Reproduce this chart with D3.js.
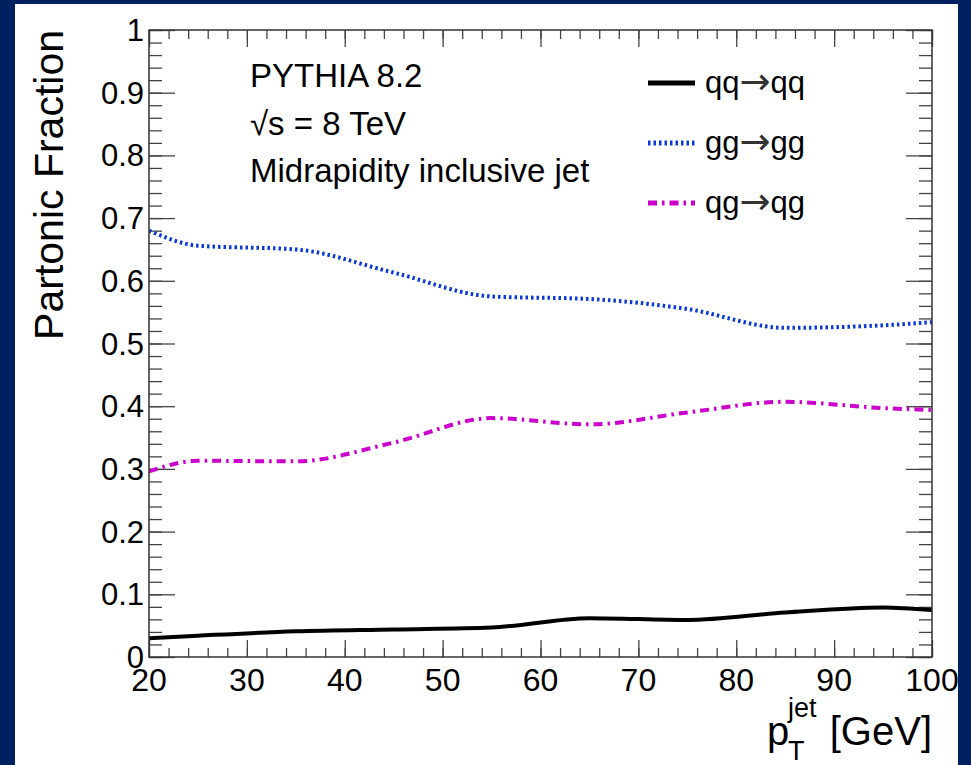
<!DOCTYPE html>
<html>
<head>
<meta charset="utf-8">
<script src="https://cdn.jsdelivr.net/npm/d3@7"></script>
<style>
  body { margin: 0; background: #002060; }
  svg { display: block; }
  text { font-family: "Liberation Sans", Arial, sans-serif; fill: #000; }
</style>
</head>
<body>
<svg id="chart" width="971" height="765"></svg>
<script>
// jet pT bins (GeV)
let ptValues = [20, 25, 35, 45, 55, 65, 75, 85, 95, 100];

// partonic fractions
let qqFraction = [0.030, 0.034, 0.041, 0.044, 0.047, 0.062, 0.059, 0.071, 0.079, 0.075];
let ggFraction = [0.680, 0.656, 0.650, 0.613, 0.575, 0.571, 0.555, 0.525, 0.529, 0.534];
let qgFraction = [0.296, 0.313, 0.312, 0.342, 0.381, 0.371, 0.390, 0.407, 0.397, 0.394];

// process labels: initial state, final state
let seriesNames = [['qq', 'qq'], ['gg', 'gg'], ['qg', 'qg']];

let xTickLabels = [20, 30, 40, 50, 60, 70, 80, 90, 100];
let yTickLabels = [0, 0.1, 0.2, 0.3, 0.4, 0.5, 0.6, 0.7, 0.8, 0.9, 1];

let infoLines = ['PYTHIA 8.2', '\u221As = 8 TeV', 'Midrapidity inclusive jet'];

let series = [
  { name: seriesNames[0], values: qqFraction, color: '#000000', dash: null, width: 4 },
  { name: seriesNames[1], values: ggFraction, color: '#0a3ad6', dash: '2.5,3', width: 4 },
  { name: seriesNames[2], values: qgFraction, color: '#cc00cc', dash: '9,5,2.5,5', width: 4 }
];

let frame = { left: 149, right: 932, top: 30, bottom: 657 };

let svg = d3.select('#chart');

// white panel on the navy slide
svg.append('rect')
  .attr('x', 15).attr('y', 4)
  .attr('width', 943).attr('height', 761)
  .attr('fill', '#fff');

let x = d3.scaleLinear().domain([20, 100]).range([frame.left, frame.right]);
let y = d3.scaleLinear().domain([0, 1]).range([frame.bottom, frame.top]);

svg.append('clipPath').attr('id', 'clip')
  .append('rect')
  .attr('x', frame.left).attr('y', frame.top)
  .attr('width', frame.right - frame.left)
  .attr('height', frame.bottom - frame.top);

// ticks, ROOT style: on all four sides
let xMinor = d3.range(20, 100.1, 2);
let yMinor = d3.range(0, 1.001, 0.02);

function tickAxis(axis, transform, values, size) {
  let g = svg.append('g')
    .attr('transform', transform)
    .call(axis.tickValues(values).tickSize(size).tickFormat(''));
  g.select('.domain').remove();
  g.selectAll('line').attr('stroke', '#444').attr('stroke-width', 1.3);
}

tickAxis(d3.axisBottom(x), `translate(0,${frame.bottom})`, xMinor, -9);
tickAxis(d3.axisBottom(x), `translate(0,${frame.bottom})`, xTickLabels, -17);
tickAxis(d3.axisTop(x), `translate(0,${frame.top})`, xMinor, -9);
tickAxis(d3.axisTop(x), `translate(0,${frame.top})`, xTickLabels, -17);
tickAxis(d3.axisLeft(y), `translate(${frame.left},0)`, yMinor, -13);
tickAxis(d3.axisLeft(y), `translate(${frame.left},0)`, yTickLabels, -26);
tickAxis(d3.axisRight(y), `translate(${frame.right},0)`, yMinor, -13);
tickAxis(d3.axisRight(y), `translate(${frame.right},0)`, yTickLabels, -26);

// curves
let line = d3.line()
  .x((d, i) => x(ptValues[i]))
  .y(d => y(d))
  .curve(d3.curveMonotoneX);

svg.append('g').attr('clip-path', 'url(#clip)')
  .selectAll('path')
  .data(series)
  .join('path')
  .attr('d', d => line(d.values))
  .attr('fill', 'none')
  .attr('stroke', d => d.color)
  .attr('stroke-width', d => d.width)
  .attr('stroke-dasharray', d => d.dash);

// frame
svg.append('rect')
  .attr('x', frame.left).attr('y', frame.top)
  .attr('width', frame.right - frame.left)
  .attr('height', frame.bottom - frame.top)
  .attr('fill', 'none')
  .attr('stroke', '#333')
  .attr('stroke-width', 1.5);

// tick labels
svg.append('g').selectAll('text')
  .data(xTickLabels)
  .join('text')
  .attr('x', d => x(d))
  .attr('y', 691)
  .attr('text-anchor', 'middle')
  .style('font-size', '32px')
  .text(d => d);

svg.append('g').selectAll('text')
  .data(yTickLabels)
  .join('text')
  .attr('x', 144)
  .attr('y', d => y(d) + 11)
  .attr('text-anchor', 'end')
  .style('font-size', '31px')
  .text(d => d);

// axis titles
svg.append('text')
  .attr('transform', 'translate(63,30) rotate(-90)')
  .attr('text-anchor', 'end')
  .style('font-size', '41px')
  .text('Partonic Fraction');

svg.append('text').attr('x', 767).attr('y', 745).style('font-size', '40px').text('p');
svg.append('text').attr('x', 788).attr('y', 717).style('font-size', '27px').text('jet');
svg.append('text').attr('x', 788).attr('y', 760).style('font-size', '27px').text('T');
svg.append('text').attr('x', 932).attr('y', 745)
  .attr('text-anchor', 'end')
  .style('font-size', '40px')
  .text('[GeV]');

// info text
svg.append('g').selectAll('text')
  .data(infoLines)
  .join('text')
  .attr('x', 250)
  .attr('y', (d, i) => [87, 135, 182][i])
  .style('font-size', '33px')
  .text(d => d);

// legend
let legend = svg.append('g')
  .selectAll('g')
  .data(series)
  .join('g')
  .attr('transform', (d, i) => `translate(648,${83 + i * 60})`);

legend.append('line')
  .attr('x1', 0).attr('x2', 47)
  .attr('stroke', d => d.color)
  .attr('stroke-width', d => d.width + 1)
  .attr('stroke-dasharray', d => d.dash);

let legendText = legend.append('text')
  .attr('x', 57)
  .attr('y', 10)
  .style('font-size', '31px');
legendText.append('tspan').text(d => d.name[0]);
legendText.append('tspan')
  .style('font-family', '"DejaVu Sans", sans-serif')
  .style('font-size', '37px')
  .attr('fill', '#333')
  .attr('dy', 1)
  .text('\u2192');
legendText.append('tspan').attr('dy', -1).text(d => d.name[1]);
</script>
</body>
</html>
